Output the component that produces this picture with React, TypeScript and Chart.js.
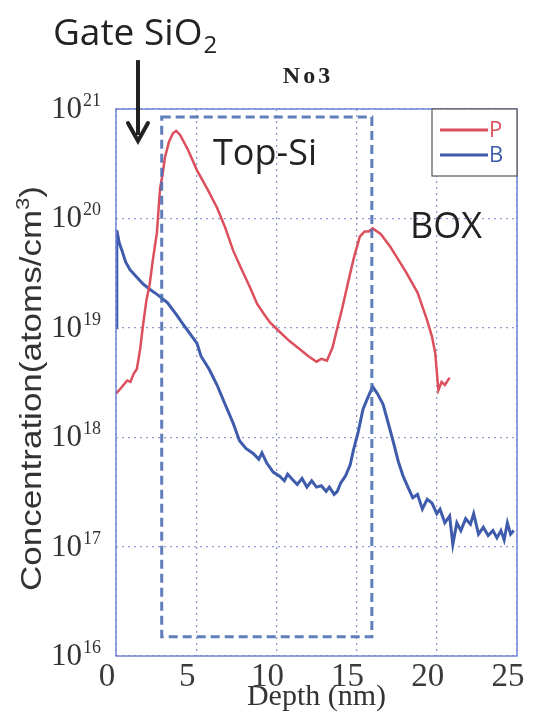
import React, { useEffect, useRef } from "react";
import { Chart, registerables } from "chart.js";

Chart.register(...registerables);

// ---- data ----
const pDepth = [0, 0.3, 0.7, 0.9, 1.1, 1.3, 1.5, 1.7, 1.9, 2.1, 2.3, 2.55, 2.75, 2.9, 3.05, 3.3, 3.55, 3.75, 4.0, 4.5, 5.05, 5.7, 6.3, 6.8, 7.3, 7.8, 8.35, 8.8, 9.2, 9.6, 10.1, 10.8, 11.5, 12.0, 12.5, 12.8, 13.15, 13.5, 13.8, 14.1, 14.4, 14.8, 15.2, 15.5, 15.75, 16.0, 16.5, 17.1, 17.6, 18.1, 18.8, 19.4, 19.7, 19.9, 20.1, 20.3, 20.5, 20.8];
const pConc = [2.5e18, 2.8e18, 3.3e18, 3.2e18, 3.8e18, 4.2e18, 6.3e18, 1.1e19, 1.8e19, 2.5e19, 4.2e19, 7.4e19, 1.9e20, 2.5e20, 3.6e20, 5.0e20, 6.0e20, 6.3e20, 5.8e20, 4.2e20, 2.75e20, 1.85e20, 1.25e20, 8.3e19, 5.1e19, 3.5e19, 2.35e19, 1.65e19, 1.35e19, 1.12e19, 9.5e18, 7.6e18, 6.3e18, 5.5e18, 4.9e18, 5.2e18, 5.0e18, 6.6e18, 1.0e19, 1.5e19, 2.35e19, 4.2e19, 6.8e19, 7.6e19, 7.6e19, 8.1e19, 7.2e19, 5.5e19, 4.2e19, 3.2e19, 2.1e19, 1.17e19, 8.3e18, 5.9e18, 2.7e18, 3.2e18, 3.0e18, 3.5e18];

const bDepth = [0, 0.05, 0.2, 0.37, 0.6, 0.87, 1.3, 1.7, 2.1, 2.6, 3.2, 3.8, 4.2, 4.6, 5.05, 5.3, 5.8, 6.3, 6.8, 7.3, 7.7, 8.1, 8.55, 8.9, 9.1, 9.4, 9.8, 10.2, 10.5, 10.7, 11.0, 11.3, 11.6, 11.9, 12.2, 12.5, 12.8, 13.1, 13.3, 13.6, 13.8, 14.0, 14.3, 14.6, 14.8, 15.1, 15.4, 15.7, 16.0, 16.3, 16.65, 17.0, 17.3, 17.6, 17.9, 18.2, 18.5, 18.8, 19.1, 19.4, 19.7, 20.0, 20.2, 20.5, 20.8, 21.0, 21.25, 21.5, 21.8, 22.1, 22.3, 22.6, 22.9, 23.2, 23.5, 23.75, 24.0, 24.2, 24.4, 24.6, 24.8];
const bConc = [1.0e19, 7.8e19, 6.0e19, 5.1e19, 4.0e19, 3.4e19, 2.9e19, 2.5e19, 2.25e19, 2.0e19, 1.7e19, 1.3e19, 1.07e19, 8.9e18, 7.2e18, 5.5e18, 4.2e18, 3.0e18, 2.0e18, 1.35e18, 9.3e17, 7.9e17, 7.1e17, 6.3e17, 7.2e17, 5.8e17, 4.8e17, 4.4e17, 4.0e17, 4.6e17, 4.1e17, 3.7e17, 4.2e17, 3.5e17, 4.0e17, 3.5e17, 3.6e17, 3.2e17, 3.5e17, 3.0e17, 3.2e17, 3.8e17, 4.4e17, 5.6e17, 7.6e17, 1.12e18, 1.8e18, 2.3e18, 2.9e18, 2.5e18, 2.0e18, 1.3e18, 8.9e17, 6.0e17, 4.4e17, 3.5e17, 2.8e17, 3.0e17, 2.2e17, 2.7e17, 2.5e17, 2.0e17, 2.2e17, 1.65e17, 1.9e17, 1.05e17, 1.65e17, 1.4e17, 1.8e17, 1.6e17, 2.0e17, 1.3e17, 1.5e17, 1.26e17, 1.4e17, 1.2e17, 1.4e17, 1.15e17, 1.65e17, 1.3e17, 1.4e17];

const seriesNames = ["P", "B"];
const xTicks = [0, 5, 10, 15, 20, 25];
const yExponents = [16, 17, 18, 19, 20, 21];

// annotation anchors in data units (depth nm, concentration)
const topSiBoxDepth = [2.85, 15.95];
const topSiBoxConc = [8.45e20, 1.5e16];
const arrowDepth = 1.37;
const arrowConc = [2.8e21, 5.1e20];
const gateLabel = { d: -3.93, c: 3.85e21 };
const noLabel = { d: 11.97, c: 1.73e21 };
const topSiLabel = { d: 6.05, c: 3.08e20 };
const boxLabel = { d: 18.33, c: 6.6e19 };

const RED = "#dc4f5c";
const BLUE = "#3f5bab";
const TEXT = "#333333";

const overlay = {
  id: "overlay",
  afterDraw(chart: any) {
    const { ctx, chartArea: a, scales } = chart;
    const xs = scales.x;
    const ys = scales.y;
    const px = (d: number) => xs.getPixelForValue(d);
    const py = (c: number) => ys.getPixelForValue(c);
    ctx.save();

    // Top-Si dashed box
    ctx.strokeStyle = "rgba(78,112,178,0.9)";
    ctx.lineWidth = 3;
    ctx.setLineDash([9, 5]);
    const bx0 = px(topSiBoxDepth[0]);
    const bx1 = px(topSiBoxDepth[1]);
    const by0 = py(topSiBoxConc[0]);
    const by1 = py(topSiBoxConc[1]);
    ctx.strokeRect(bx0, by0, bx1 - bx0, by1 - by0);
    ctx.setLineDash([]);

    // frame
    ctx.strokeStyle = "#7284d6";
    ctx.lineWidth = 1.5;
    ctx.strokeRect(a.left, a.top, a.right - a.left, a.bottom - a.top);

    // legend
    const lw = 85, lh = 67;
    const lx = a.right - lw, ly = a.top;
    ctx.fillStyle = "#ffffff";
    ctx.fillRect(lx, ly, lw, lh);
    ctx.strokeStyle = "#555555";
    ctx.lineWidth = 1.2;
    ctx.strokeRect(lx, ly, lw, lh);
    const colors = [RED, BLUE];
    ctx.font = "22px 'Open Sans'";
    ctx.textBaseline = "middle";
    ctx.textAlign = "left";
    seriesNames.forEach((n, i) => {
      const yy = ly + 21 + i * 25;
      ctx.strokeStyle = colors[i];
      ctx.lineWidth = 3;
      ctx.beginPath();
      ctx.moveTo(lx + 8, yy);
      ctx.lineTo(lx + 56, yy);
      ctx.stroke();
      ctx.fillStyle = colors[i];
      ctx.fillText(n, lx + 57, yy + 1);
    });

    // y tick labels 10^n
    ctx.fillStyle = TEXT;
    ctx.textBaseline = "alphabetic";
    yExponents.forEach((e) => {
      const yy = py(Math.pow(10, e));
      const right = a.left - 34;
      ctx.font = "31px 'Liberation Serif'";
      ctx.textAlign = "right";
      ctx.fillText("10", right, yy + 9);
      ctx.font = "18px 'Liberation Serif'";
      ctx.textAlign = "left";
      ctx.fillText(String(e), right + 1, yy - 3);
    });

    // y axis title
    ctx.save();
    const tcx = 25;
    const tcy = (a.top + a.bottom) / 2 + 6;
    ctx.translate(tcx, tcy);
    ctx.rotate(-Math.PI / 2);
    const mainFont = "30px 'Liberation Sans'";
    const supFont = "19px 'Liberation Sans'";
    ctx.font = mainFont;
    const t1 = "Concentration(atoms/cm";
    const t3 = ")";
    const w1 = ctx.measureText(t1).width;
    const w3 = ctx.measureText(t3).width;
    ctx.font = supFont;
    const w2 = ctx.measureText("3").width;
    const total = w1 + w2 + w3;
    const target = 405;
    ctx.scale(target / total, 1);
    ctx.textBaseline = "middle";
    ctx.textAlign = "left";
    ctx.fillStyle = TEXT;
    ctx.font = mainFont;
    ctx.fillText(t1, -total / 2, 0);
    ctx.font = supFont;
    ctx.fillText("3", -total / 2 + w1, -9);
    ctx.font = mainFont;
    ctx.fillText(t3, -total / 2 + w1 + w2, 0);
    ctx.restore();

    // annotations
    ctx.fillStyle = "#222222";
    ctx.textAlign = "left";
    ctx.textBaseline = "alphabetic";
    ctx.font = "37px 'Open Sans'";
    const gx = px(gateLabel.d), gy = py(gateLabel.c);
    ctx.fillText("Gate SiO", gx, gy);
    const gw = ctx.measureText("Gate SiO").width;
    ctx.font = "24px 'Open Sans'";
    ctx.fillText("2", gx + gw + 1, gy + 8);

    ctx.font = "36px 'Open Sans'";
    ctx.fillText("Top-Si", px(topSiLabel.d), py(topSiLabel.c));
    ctx.fillText("BOX", px(boxLabel.d), py(boxLabel.c));

    ctx.font = "bold 24px 'Liberation Serif'";
    ctx.textAlign = "center";
    (ctx as any).letterSpacing = "3px";
    ctx.fillText("No3", px(noLabel.d), py(noLabel.c));
    (ctx as any).letterSpacing = "0px";

    // arrow
    const ax = px(arrowDepth);
    const ay0 = py(arrowConc[0]);
    const ay1 = py(arrowConc[1]);
    ctx.strokeStyle = "#222222";
    ctx.lineWidth = 4;
    ctx.beginPath();
    ctx.moveTo(ax, ay0);
    ctx.lineTo(ax, ay1 - 6);
    ctx.stroke();
    ctx.lineWidth = 4;
    ctx.lineCap = "round";
    ctx.lineJoin = "miter";
    ctx.beginPath();
    ctx.moveTo(ax - 10, ay1 - 18);
    ctx.lineTo(ax, ay1);
    ctx.lineTo(ax + 10, ay1 - 18);
    ctx.stroke();

    ctx.restore();
  },
};

export default function App() {
  const ref = useRef<HTMLCanvasElement | null>(null);
  useEffect(() => {
    if (!ref.current) return;
    const chart = new Chart(ref.current, {
      type: "line",
      data: {
        datasets: [
          {
            label: seriesNames[0],
            data: pDepth.map((d, i) => ({ x: d, y: pConc[i] })),
            borderColor: RED,
            borderWidth: 2.5,
            pointRadius: 0,
            tension: 0,
          },
          {
            label: seriesNames[1],
            data: bDepth.map((d, i) => ({ x: d, y: bConc[i] })),
            borderColor: BLUE,
            borderWidth: 3,
            pointRadius: 0,
            tension: 0,
          },
        ],
      },
      options: {
        animation: false,
        responsive: true,
        maintainAspectRatio: false,
        layout: { padding: { top: 101, right: 8, left: 0, bottom: 0 } },
        plugins: {
          legend: { display: false },
          tooltip: { enabled: false },
          title: { display: false },
        },
        scales: {
          x: {
            type: "linear",
            min: 0,
            max: 25,
            afterBuildTicks: (s: any) => {
              s.ticks = xTicks.map((v) => ({ value: v }));
            },
            afterFit: (s: any) => {
              s.height = 59;
              s.paddingLeft = 0;
              s.paddingRight = 0;
            },
            grid: { color: "rgba(110,122,190,0.75)", lineWidth: 1.3, drawTicks: false },
            border: { display: false, dash: [2, 4] },
            ticks: {
              font: { family: "'Liberation Serif'", size: 33 },
              color: "#3a3a3a",
              padding: 2,
              labelOffset: -9,
              maxRotation: 0,
              autoSkip: false,
            },
            title: {
              display: true,
              text: "Depth (nm)",
              font: { family: "'Liberation Serif'", size: 30 },
              color: TEXT,
              padding: 0,
            },
          },
          y: {
            type: "logarithmic",
            min: 1e16,
            max: 1e21,
            afterBuildTicks: (s: any) => {
              s.ticks = yExponents.map((e) => ({ value: Math.pow(10, e) }));
            },
            afterFit: (s: any) => {
              s.width = 108;
            },
            grid: { color: "rgba(110,122,190,0.75)", lineWidth: 1.3, drawTicks: false },
            border: { display: false, dash: [2, 4] },
            ticks: { display: false },
          },
        },
      },
      plugins: [overlay],
    });
    return () => chart.destroy();
  }, []);
  return (
    <div style={{ width: 517, height: 707, position: "relative" }}>
      <canvas ref={ref} />
    </div>
  );
}
